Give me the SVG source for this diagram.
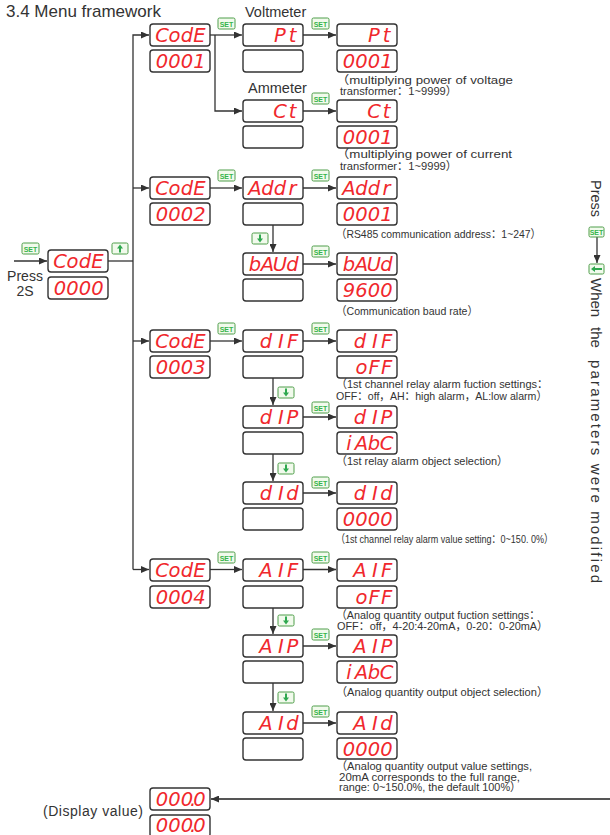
<svg xmlns="http://www.w3.org/2000/svg" width="610" height="835" viewBox="0 0 610 835">
<style>
.bx{fill:#fff;stroke:#333;stroke-width:1.4}
.seg{font-family:"DejaVu Sans","Liberation Sans",sans-serif;font-weight:200;font-style:italic;font-size:19.5px;fill:#f0282d;text-anchor:middle}
.ln{fill:none;stroke:#333;stroke-width:1.3}
.lbl{font-family:"Liberation Sans",Arial,sans-serif;fill:#333}
.note{font-family:"Liberation Sans","Noto Sans CJK SC",sans-serif;font-size:11.5px;fill:#333}
.ic{fill:#f1faec;stroke:#4f9e4a;stroke-width:1}
.st{font-family:"Liberation Sans",Arial,sans-serif;font-size:7px;font-weight:bold;fill:#35b44a;text-anchor:middle}
.ar{fill:#2fa84f}
</style>
<defs>
<marker id="ah" markerWidth="8" markerHeight="7" refX="8" refY="3.5" orient="auto" markerUnits="userSpaceOnUse"><path d="M0,0 L8,3.5 L0,7 z" fill="#333"/></marker>
</defs>

<text class="lbl" x="6" y="17" font-size="17">3.4 Menu  framework</text>

<g id="connectors">
<path class="ln" d="M14,261 H47" marker-end="url(#ah)"/>
<path class="ln" d="M108,261 H133"/>
<path class="ln" d="M133,569.5 V35 H149" marker-end="url(#ah)"/>
<path class="ln" d="M133,188 H149" marker-end="url(#ah)"/>
<path class="ln" d="M133,341 H149" marker-end="url(#ah)"/>
<path class="ln" d="M133,569.5 H149" marker-end="url(#ah)"/>
<path class="ln" d="M210,35 H242" marker-end="url(#ah)"/>
<path class="ln" d="M215,35 V111 H242" marker-end="url(#ah)"/>
<path class="ln" d="M303,35 H336" marker-end="url(#ah)"/>
<path class="ln" d="M303,111 H336" marker-end="url(#ah)"/>
<path class="ln" d="M210,188 H242" marker-end="url(#ah)"/>
<path class="ln" d="M303,188 H336" marker-end="url(#ah)"/>
<path class="ln" d="M273,225 V252" marker-end="url(#ah)"/>
<path class="ln" d="M303,264 H336" marker-end="url(#ah)"/>
<path class="ln" d="M210,341 H242" marker-end="url(#ah)"/>
<path class="ln" d="M303,341 H336" marker-end="url(#ah)"/>
<path class="ln" d="M273,378 V405" marker-end="url(#ah)"/>
<path class="ln" d="M303,417 H336" marker-end="url(#ah)"/>
<path class="ln" d="M273,454 V481" marker-end="url(#ah)"/>
<path class="ln" d="M303,493 H336" marker-end="url(#ah)"/>
<path class="ln" d="M210,569.5 H242" marker-end="url(#ah)"/>
<path class="ln" d="M303,569.5 H336" marker-end="url(#ah)"/>
<path class="ln" d="M273,608 V634" marker-end="url(#ah)"/>
<path class="ln" d="M303,646 H336" marker-end="url(#ah)"/>
<path class="ln" d="M273,683 V711" marker-end="url(#ah)"/>
<path class="ln" d="M303,723 H336" marker-end="url(#ah)"/>
<path d="M610,799 H211" fill="none" stroke="#555" stroke-width="2.2" marker-end="url(#ah)"/>
<path class="ln" d="M597,237 V263" marker-end="url(#ah)"/>
</g>

<g id="icons">
<rect class="ic" x="22" y="243" width="17" height="11" rx="1.5"/><text class="st" x="30.5" y="251.5">SET</text>
<rect class="ic" x="112" y="243" width="16" height="11" rx="1.5"/><path class="ar" d="M120,244.5 L123,248.5 L121,248.5 L121,252.5 L119,252.5 L119,248.5 L117,248.5 z"/>
<rect class="ic" x="218" y="18" width="17" height="11" rx="1.5"/><text class="st" x="226.5" y="26.5">SET</text>
<rect class="ic" x="312" y="18" width="17" height="11" rx="1.5"/><text class="st" x="320.5" y="26.5">SET</text>
<rect class="ic" x="312" y="93" width="17" height="11" rx="1.5"/><text class="st" x="320.5" y="101.5">SET</text>
<rect class="ic" x="218" y="170" width="17" height="11" rx="1.5"/><text class="st" x="226.5" y="178.5">SET</text>
<rect class="ic" x="312" y="170" width="17" height="11" rx="1.5"/><text class="st" x="320.5" y="178.5">SET</text>
<rect class="ic" x="252" y="233" width="16" height="11" rx="1.5"/><path class="ar" d="M260,242.5 L263,238.5 L261,238.5 L261,234.5 L259,234.5 L259,238.5 L257,238.5 z"/>
<rect class="ic" x="312" y="246" width="17" height="11" rx="1.5"/><text class="st" x="320.5" y="254.5">SET</text>
<rect class="ic" x="218" y="323" width="17" height="11" rx="1.5"/><text class="st" x="226.5" y="331.5">SET</text>
<rect class="ic" x="312" y="323" width="17" height="11" rx="1.5"/><text class="st" x="320.5" y="331.5">SET</text>
<rect class="ic" x="278" y="387" width="16" height="11" rx="1.5"/><path class="ar" d="M286,396.5 L289,392.5 L287,392.5 L287,388.5 L285,388.5 L285,392.5 L283,392.5 z"/>
<rect class="ic" x="312" y="402" width="17" height="11" rx="1.5"/><text class="st" x="320.5" y="410.5">SET</text>
<rect class="ic" x="278" y="463" width="16" height="11" rx="1.5"/><path class="ar" d="M286,472.5 L289,468.5 L287,468.5 L287,464.5 L285,464.5 L285,468.5 L283,468.5 z"/>
<rect class="ic" x="312" y="477" width="17" height="11" rx="1.5"/><text class="st" x="320.5" y="485.5">SET</text>
<rect class="ic" x="218" y="552" width="17" height="11" rx="1.5"/><text class="st" x="226.5" y="560.5">SET</text>
<rect class="ic" x="312" y="552" width="17" height="11" rx="1.5"/><text class="st" x="320.5" y="560.5">SET</text>
<rect class="ic" x="278" y="615" width="16" height="11" rx="1.5"/><path class="ar" d="M286,624.5 L289,620.5 L287,620.5 L287,616.5 L285,616.5 L285,620.5 L283,620.5 z"/>
<rect class="ic" x="312" y="629" width="17" height="11" rx="1.5"/><text class="st" x="320.5" y="637.5">SET</text>
<rect class="ic" x="278" y="692" width="16" height="11" rx="1.5"/><path class="ar" d="M286,701.5 L289,697.5 L287,697.5 L287,693.5 L285,693.5 L285,697.5 L283,697.5 z"/>
<rect class="ic" x="312" y="706" width="17" height="11" rx="1.5"/><text class="st" x="320.5" y="714.5">SET</text>
<rect class="ic" x="589" y="227" width="15" height="10" rx="1.5"/><text class="st" x="596.5" y="234.5" font-size="6">SET</text>
<rect class="ic" x="589" y="264" width="15" height="10" rx="1.5"/><path class="ar" d="M591,269 L595,266 L595,268 L602,268 L602,270 L595,270 L595,272 z"/>
</g>

<g id="labels">
<text class="lbl" x="245" y="17" font-size="14.5">Voltmeter</text>
<text class="lbl" x="248" y="93" font-size="14.5">Ammeter</text>
<text class="lbl" x="25" y="281" font-size="14" text-anchor="middle">Press</text>
<text class="lbl" x="25" y="296" font-size="14" text-anchor="middle">2S</text>
<text class="lbl" x="43" y="816" font-size="14" textLength="100">(Display value)</text>
<text class="lbl" font-size="14.5" transform="translate(591,180) rotate(90)">Press</text>
<text class="lbl" font-size="15" transform="translate(591,278) rotate(90)"><tspan x="0">When</tspan><tspan x="49">the</tspan><tspan x="82" textLength="223" lengthAdjust="spacing">parameters were modified</tspan></text>
</g>

<g id="notes">
<text class="note" x="336" y="83.5" textLength="177" lengthAdjust="spacingAndGlyphs">（multiplying power of voltage</text>
<text class="note" x="340" y="95" textLength="117" lengthAdjust="spacingAndGlyphs">transformer：1~9999）</text>
<text class="note" x="336" y="158" textLength="176" lengthAdjust="spacingAndGlyphs">（multiplying power of current</text>
<text class="note" x="340" y="169.5" textLength="117" lengthAdjust="spacingAndGlyphs">transformer：1~9999）</text>
<text class="note" x="336" y="237.5" textLength="205" lengthAdjust="spacingAndGlyphs">（RS485 communication address：1~247）</text>
<text class="note" x="336" y="315" textLength="142" lengthAdjust="spacingAndGlyphs">（Communication baud rate）</text>
<text class="note" x="336" y="388" textLength="212" lengthAdjust="spacingAndGlyphs">（1st channel relay alarm fuction settings：</text>
<text class="note" x="336" y="399.5" textLength="211" lengthAdjust="spacingAndGlyphs">OFF：off，AH：high alarm，AL:low alarm）</text>
<text class="note" x="336" y="465" textLength="172" lengthAdjust="spacingAndGlyphs">（1st relay alarm object selection）</text>
<text class="note" x="336" y="542.5" textLength="217" lengthAdjust="spacingAndGlyphs">（1st channel relay alarm value setting：0~150. 0%）</text>
<text class="note" x="336" y="619" textLength="204" lengthAdjust="spacingAndGlyphs">（Analog quantity output fuction settings：</text>
<text class="note" x="337" y="630" textLength="211" lengthAdjust="spacingAndGlyphs">OFF：off，4-20:4-20mA，0-20：0-20mA）</text>
<text class="note" x="336" y="695.5" textLength="212" lengthAdjust="spacingAndGlyphs">（Analog quantity output object selection）</text>
<text class="note" x="336" y="770" textLength="196" lengthAdjust="spacingAndGlyphs">（Analog quantity output value settings,</text>
<text class="note" x="339" y="780.5" textLength="181" lengthAdjust="spacingAndGlyphs">20mA corresponds to the full range,</text>
<text class="note" x="339" y="791" textLength="182" lengthAdjust="spacingAndGlyphs">range: 0~150.0%, the default 100%）</text>
</g>

<g id="start"><rect class="bx" x="48" y="250" width="60" height="22" rx="3"/><text class="seg" x="60 72.5 85 97.5" y="268">CodE</text><rect class="bx" x="48" y="277" width="60" height="22" rx="3"/><text class="seg" x="60 72.5 85 97.5" y="295">0000</text></g>

<g id="code1"><rect class="bx" x="150" y="24" width="60" height="22" rx="3"/><text class="seg" x="162 174.5 187 199.5" y="42">CodE</text><rect class="bx" x="150" y="50" width="60" height="22" rx="3"/><text class="seg" x="162 174.5 187 199.5" y="68">0001</text></g>
<g id="pt"><rect class="bx" x="243" y="24" width="60" height="22" rx="3"/><text class="seg" x="280 292.5" y="42">Pt</text><rect class="bx" x="243" y="50" width="60" height="22" rx="3"/></g>
<g id="pt-set"><rect class="bx" x="337" y="24" width="60" height="22" rx="3"/><text class="seg" x="374 386.5" y="42">Pt</text><rect class="bx" x="337" y="50" width="60" height="22" rx="3"/><text class="seg" x="349 361.5 374 386.5" y="68">0001</text></g>
<g id="ct"><rect class="bx" x="243" y="100" width="60" height="22" rx="3"/><text class="seg" x="280 292.5" y="118">Ct</text><rect class="bx" x="243" y="126" width="60" height="22" rx="3"/></g>
<g id="ct-set"><rect class="bx" x="337" y="100" width="60" height="22" rx="3"/><text class="seg" x="374 386.5" y="118">Ct</text><rect class="bx" x="337" y="126" width="60" height="22" rx="3"/><text class="seg" x="349 361.5 374 386.5" y="144">0001</text></g>

<g id="code2"><rect class="bx" x="150" y="177" width="60" height="22" rx="3"/><text class="seg" x="162 174.5 187 199.5" y="195">CodE</text><rect class="bx" x="150" y="203" width="60" height="22" rx="3"/><text class="seg" x="162 174.5 187 199.5" y="221">0002</text></g>
<g id="addr"><rect class="bx" x="243" y="177" width="60" height="22" rx="3"/><text class="seg" x="255 267.5 280 292.5" y="195">Addr</text><rect class="bx" x="243" y="203" width="60" height="22" rx="3"/></g>
<g id="addr-set"><rect class="bx" x="337" y="177" width="60" height="22" rx="3"/><text class="seg" x="349 361.5 374 386.5" y="195">Addr</text><rect class="bx" x="337" y="203" width="60" height="22" rx="3"/><text class="seg" x="349 361.5 374 386.5" y="221">0001</text></g>
<g id="baud"><rect class="bx" x="243" y="253" width="60" height="22" rx="3"/><text class="seg" x="255 267.5 280 292.5" y="271">bAUd</text><rect class="bx" x="243" y="279" width="60" height="22" rx="3"/></g>
<g id="baud-set"><rect class="bx" x="337" y="253" width="60" height="22" rx="3"/><text class="seg" x="349 361.5 374 386.5" y="271">bAUd</text><rect class="bx" x="337" y="279" width="60" height="22" rx="3"/><text class="seg" x="349 361.5 374 386.5" y="297">9600</text></g>

<g id="code3"><rect class="bx" x="150" y="330" width="60" height="22" rx="3"/><text class="seg" x="162 174.5 187 199.5" y="348">CodE</text><rect class="bx" x="150" y="356" width="60" height="22" rx="3"/><text class="seg" x="162 174.5 187 199.5" y="374">0003</text></g>
<g id="dif"><rect class="bx" x="243" y="330" width="60" height="22" rx="3"/><text class="seg" x="266 281 292.5" y="348">dIF</text><rect class="bx" x="243" y="356" width="60" height="22" rx="3"/></g>
<g id="dif-set"><rect class="bx" x="337" y="330" width="60" height="22" rx="3"/><text class="seg" x="360 375 386.5" y="348">dIF</text><rect class="bx" x="337" y="356" width="60" height="22" rx="3"/><text class="seg" x="361.5 374 386.5" y="374">oFF</text></g>
<g id="dip"><rect class="bx" x="243" y="406" width="60" height="22" rx="3"/><text class="seg" x="266 281 292.5" y="424">dIP</text><rect class="bx" x="243" y="432" width="60" height="22" rx="3"/></g>
<g id="dip-set"><rect class="bx" x="337" y="406" width="60" height="22" rx="3"/><text class="seg" x="360 375 386.5" y="424">dIP</text><rect class="bx" x="337" y="432" width="60" height="22" rx="3"/><text class="seg" x="349 361.5 374 386.5" y="450">iAbC</text></g>
<g id="did"><rect class="bx" x="243" y="482" width="60" height="22" rx="3"/><text class="seg" x="266 281 292.5" y="500">dId</text><rect class="bx" x="243" y="508" width="60" height="22" rx="3"/></g>
<g id="did-set"><rect class="bx" x="337" y="482" width="60" height="22" rx="3"/><text class="seg" x="360 375 386.5" y="500">dId</text><rect class="bx" x="337" y="508" width="60" height="22" rx="3"/><text class="seg" x="349 361.5 374 386.5" y="526">0000</text></g>

<g id="code4"><rect class="bx" x="150" y="559" width="60" height="22" rx="3"/><text class="seg" x="162 174.5 187 199.5" y="577">CodE</text><rect class="bx" x="150" y="586" width="60" height="22" rx="3"/><text class="seg" x="162 174.5 187 199.5" y="604">0004</text></g>
<g id="aif"><rect class="bx" x="243" y="559" width="60" height="22" rx="3"/><text class="seg" x="266 281 292.5" y="577">AIF</text><rect class="bx" x="243" y="586" width="60" height="22" rx="3"/></g>
<g id="aif-set"><rect class="bx" x="337" y="559" width="60" height="22" rx="3"/><text class="seg" x="360 375 386.5" y="577">AIF</text><rect class="bx" x="337" y="586" width="60" height="22" rx="3"/><text class="seg" x="361.5 374 386.5" y="604">oFF</text></g>
<g id="aip"><rect class="bx" x="243" y="635" width="60" height="22" rx="3"/><text class="seg" x="266 281 292.5" y="653">AIP</text><rect class="bx" x="243" y="661" width="60" height="22" rx="3"/></g>
<g id="aip-set"><rect class="bx" x="337" y="635" width="60" height="22" rx="3"/><text class="seg" x="360 375 386.5" y="653">AIP</text><rect class="bx" x="337" y="661" width="60" height="22" rx="3"/><text class="seg" x="349 361.5 374 386.5" y="679">iAbC</text></g>
<g id="aid"><rect class="bx" x="243" y="712" width="60" height="22" rx="3"/><text class="seg" x="266 281 292.5" y="730">AId</text><rect class="bx" x="243" y="738" width="60" height="22" rx="3"/></g>
<g id="aid-set"><rect class="bx" x="337" y="712" width="60" height="22" rx="3"/><text class="seg" x="360 375 386.5" y="730">AId</text><rect class="bx" x="337" y="738" width="60" height="21" rx="3"/><text class="seg" x="349 361.5 374 386.5" y="755.5">0000</text></g>

<g id="display"><rect class="bx" x="150" y="788" width="60" height="22" rx="3"/><text class="seg" x="162 174.5 187 193 199.5" y="806">000.0</text><rect class="bx" x="150" y="815" width="60" height="22" rx="3"/><text class="seg" x="162 174.5 187 193 199.5" y="832">000.0</text></g>
</svg>
